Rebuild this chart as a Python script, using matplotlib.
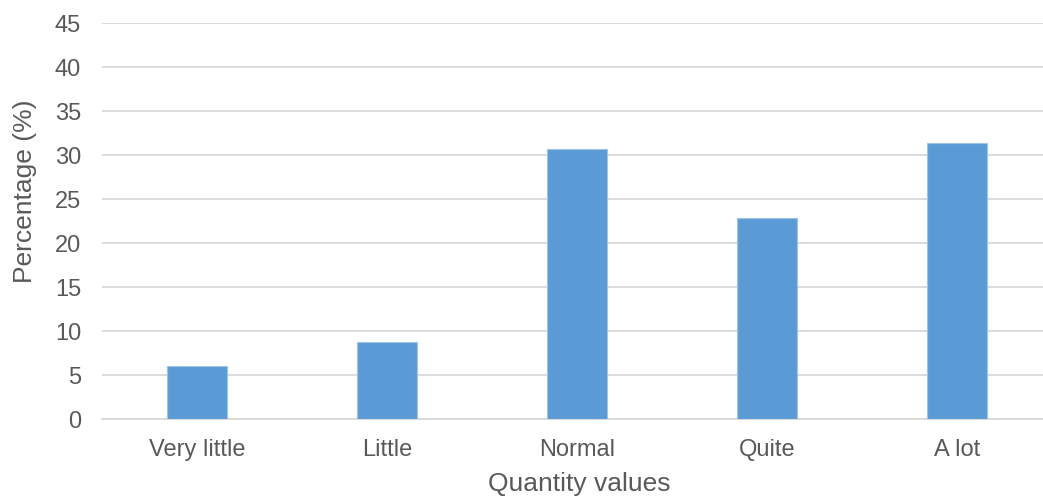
import matplotlib
matplotlib.use("Agg")
import matplotlib.pyplot as plt

categories = ["Very little", "Little", "Normal", "Quite", "A lot"]
percentages = [6.1, 8.8, 30.7, 22.9, 31.4]
y_ticks = [0, 5, 10, 15, 20, 25, 30, 35, 40, 45]

plt.rcParams["font.family"] = ["Liberation Sans", "DejaVu Sans"]
text_color = "#595959"

fig = plt.figure(figsize=(10.43, 5.0), dpi=100)
ax = fig.add_axes([102 / 1043, 1 - 419.3 / 500, 941 / 1043, 396 / 500])

x = range(len(categories))
ax.bar(x, percentages, width=60 / 190, color="#5B9BD5",
       edgecolor="#9DC3E6", linewidth=0.8, zorder=3)

ax.set_xlim(-0.5, -0.5 + 941 / 190)
ax.set_ylim(0, 45)
ax.set_yticks(y_ticks)
ax.set_xticks(list(x))
ax.set_xticklabels(categories)

ax.grid(axis="y", color="#D9D9D9", linewidth=1.3, zorder=0)
for side in ["top", "right", "left"]:
    ax.spines[side].set_visible(False)
ax.spines["bottom"].set_color("#D9D9D9")
ax.spines["bottom"].set_linewidth(1.3)
ax.tick_params(axis="both", length=0, labelsize=17, colors=text_color)
ax.tick_params(axis="y", pad=15)
ax.tick_params(axis="x", pad=14)

ax.set_xlabel("Quantity values", fontsize=19, color=text_color,
              labelpad=8, x=0.507)
ax.set_ylabel("Percentage (%)", fontsize=19, color=text_color,
              labelpad=13, y=0.5765)

fig.savefig("out.png", dpi=100)
